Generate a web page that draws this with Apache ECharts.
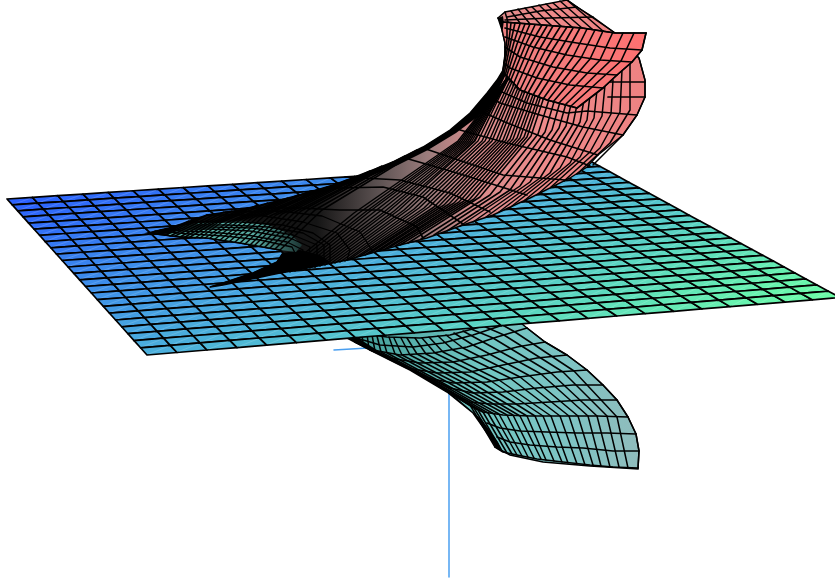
<!DOCTYPE html>
<html><head><meta charset="utf-8">
<script src="https://cdn.jsdelivr.net/npm/echarts@6/dist/echarts.min.js"></script>
<style>html,body{margin:0;background:#fff}#c{width:835px;height:581px}</style></head>
<body><div id="c"></div>
<script>
const planeLeftX=[7,12.3,17.7,23.1,28.6,34.1,39.6,45.2,50.8,56.5,62.2,68,73.8,79.6,85.5,91.4,97.4,103.4,109.5,115.6,121.7,127.9,134.1,140.5,147];
const planeLeftY=[199,204.9,210.9,216.9,223.1,229.2,235.3,241.6,247.8,254.2,260.5,267,273.4,279.9,286.5,293,299.7,306.4,313.2,320,326.8,333.7,340.6,347.8,355];
const planeRightX=[590,599.7,609.5,619.3,629.2,639.1,649.1,659.2,669.3,679.4,689.6,699.9,710.2,720.6,731,741.5,752.1,762.7,773.4,784.2,795,805.9,816.9,828.4,840];
const planeRightY=[161,166.3,171.6,177,182.4,187.8,193.3,198.8,204.3,209.8,215.4,221,226.6,232.3,238,243.7,249.5,255.3,261.1,267,272.9,278.9,284.9,291.2,297.5];
const planeBackX=[7,32.4,57.7,83,108.2,133.3,158.3,183.2,208,232.7,257.3,281.8,306.2,330.5,354.7,378.8,402.8,426.7,450.5,474.2,497.8,521.3,544.7,567.5,590];
const planeBackY=[199,197.3,195.7,194.1,192.4,190.8,189.1,187.5,185.9,184.3,182.7,181.1,179.5,177.9,176.3,174.8,173.2,171.6,170.1,168.5,167,165.5,163.9,162.5,161];
const planeFrontX=[147,177,207,237,266.8,296.5,326,355.5,384.9,414.2,443.4,472.5,501.5,530.4,559.2,588,616.7,645.3,673.7,702,730,757.5,785,812.3,840];
const planeFrontY=[355,352.5,350,347.5,345.1,342.6,340.1,337.7,335.2,332.8,330.4,328,325.6,323.2,320.8,318.4,316,313.7,311.3,309,306.6,304.3,302,299.8,297.5];
const planePalette=['#2a5eff','#4bafdc','#6dffa6'];

const axisLines=[[[449,385],[449,577]],[[334,350],[368,348]]];

const lowerOutline=[[347,330],[347,338],[370,350],[410,370],[447,392],[473,413],[490,437],[497,448],[510,455],[543,462],[590,466],[638,469],[639,451],[636,434],[628,417],[617,400],[603,385],[587,370],[567,355],[545,342],[527,328],[505,310]];
const lowerShade=[[347,338],[370,350],[410,370],[447,392],[473,413],[490,437],[497,448],[503,452],[498,442],[482,420],[458,399],[420,374],[380,352],[355,336]];
const lowerRows=[
[[638,468],[613,467],[590,465],[563,462],[537,459],[517,455],[503,452],[495,447]],
[[639,451],[613,451],[583,448],[557,447],[530,445],[510,442],[497,437]],
[[636,434],[607,433],[577,433],[547,432],[520,431],[500,428],[487,423]],
[[628,417],[597,416],[563,416],[530,416],[503,415],[483,412],[470,405]],
[[617,400],[583,400],[550,402],[517,404],[490,404],[470,402],[450,392]],
[[603,385],[573,385],[537,388],[503,392],[473,393],[450,388],[430,378]],
[[587,370],[557,372],[520,377],[487,382],[453,383],[427,378],[407,367]],
[[567,355],[537,358],[503,365],[470,372],[437,373],[407,368],[387,358]],
[[545,342],[517,347],[487,355],[453,362],[420,363],[390,358],[370,350]],
[[527,328],[497,337],[467,347],[433,353],[400,355],[373,350],[355,342]],
[[503,325],[473,335],[443,343],[413,347],[380,345],[353,337]],
[[480,327],[450,335],[420,338],[387,337],[357,333]]];
const lowerEdge=[[638,468],[639,451],[636,434],[628,417],[617,400],[603,385],[587,370],[567,355],[545,342],[527,328]];
const lowerStripes=[
[628,468,617,417,574,371,515,332,490,318],[619,467,607,416,563,372,504,335,481,325],
[610,467,597,416,551,373,493,338,471,329],[601,466,588,416,541,374,483,342,463,331],
[593,465,578,416,530,376,473,345,454,333],[585,465,569,416,520,377,463,348,446,335],
[577,464,560,416,510,378,453,350,438,336],[568,463,551,416,499,380,443,352,429,337],
[562,462,543,416,491,381,435,353,422,338],[554,461,535,416,481,382,426,354,415,338],
[546,460,527,416,472,383,417,354,407,338],[541,459,520,416,464,383,410,355,401,338],
[534,458,513,415,456,383,402,355,394,338],[528,457,507,415,449,383,395,354,389,337],
[522,456,499,414,441,382,387,353,382,336],[517,455,494,414,434,380,381,352,377,336],
[512,454,488,413,428,378,375,351,372,335],[507,453,483,412,422,375,369,349,367,334],
[502,451,478,410,416,372,363,346,362,333],[499,449,474,408,411,369,359,344,359,332],
[495,447,470,405,407,367,355,342,355,331]];

const bodyOutline=[[148,233],[173,227],[207,215],[240,210],[273,202],[307,193],[333,185],[347,180],[365,173],[393,162],[423,147],[450,130],[470,113],[487,93],[497,80],[503,70],[505,57],[505,43],[502,30],[498,18],[505,12],[567,0],[577,7],[593,17],[615,33],[639,58],[645,80],[645,97],[637,115],[623,135],[598,155],[587,167],[570,178],[530,198],[493,215],[463,225],[427,238],[400,245],[347,260],[313,267],[280,273],[223,285],[210,287],[223,283],[253,273],[277,262],[283,253],[280,250],[240,243],[207,238],[180,237]];
const bodyShade=[[300,194],[333,185],[347,180],[365,173],[393,162],[423,147],[450,130],[470,113],[487,93],[497,80],[503,70],[505,57],[505,43],[502,30],[498,18],[503,16],[505,30],[508,43],[508,57],[507,72],[501,85],[492,100],[476,118],[456,133],[428,150],[398,165],[368,177],[338,188],[305,197]];
const tealPatch=[[168,235],[207,238],[240,243],[280,250],[296,252],[302,245],[290,234],[268,225],[240,221],[207,222],[180,226]];
const limbFill=[[210,287],[223,283],[253,273],[277,262],[283,253],[300,250],[320,255],[330,262],[313,267],[280,273],[223,285]];
const bodyRows=[
[[577,7],[540,11],[507,17]],[[593,17],[550,18],[505,20]],
[[645,82],[603,82]],[[645,97],[608,97]],
[[493,88],[527,103],[567,113],[587,111],[637,115]],
[[487,95],[500,103],[540,115],[583,127],[623,135]],
[[478,110],[505,122],[550,140],[598,155]],
[[460,130],[507,143],[567,157],[590,166]],
[[423,148],[503,175],[565,180]],
[[405,158],[457,173],[527,195]],
[[345,177],[363,178],[400,180],[450,193],[490,212]],
[[310,191],[340,188],[383,187],[423,197],[463,224]],
[[250,208],[300,208],[340,210],[380,210],[417,227],[423,238]]];
const fanRows=[
[[148,233],[180,237],[207,238],[240,243],[280,250],[283,253],[277,262],[253,273],[223,283],[210,287]],
[[155,231],[190,234],[225,236],[260,240],[292,247],[296,255],[280,266],[250,277]],
[[160,230],[207,232],[247,235],[287,242],[303,250],[300,260],[280,269]],
[[165,229],[210,229],[250,231],[290,238],[310,247],[308,258],[290,268]],
[[173,227],[213,227],[253,228],[293,235],[317,245],[317,257],[300,267]],
[[180,225],[228,225],[268,227],[303,233],[324,245],[324,258],[315,267]],
[[190,222],[240,222],[283,225],[313,233],[330,245],[330,262]],
[[207,215],[257,215],[303,222],[337,233],[350,250],[347,260]],
[[225,212],[280,211],[322,216],[360,232],[372,250]]];
const lobeEdge=[[593,165],[623,135],[637,115],[645,97],[645,80],[639,58],[615,33],[567,0]];
const bodyStripes=[
[577,174,610,143,630,110,630,60],[564,181,600,148,620,112,622,70],[551,187,590,152,611,114,613,80],[538,194,580,157,602,116,605,85],
[525,200,570,163,594,118,597,90],[512,206,560,168,587,120,590,95],[499,212,550,173,580,122,584,100],[486,217,540,178,573,124,578,100],
[473,222,530,182,566,126,572,100],[460,226,520,186,559,128,567,100],[447,231,510,190,552,130,562,95],[434,235,500,192,545,132,557,92],
[421,239,490,195,538,134,552,90],[408,243,480,197,531,136,547,88],
[400,245,474,199,527,137,544,87],[395,246,469,200,524,137,542,86],[390,247,464,201,520,138,539,85],[385,249,459,202,517,138,537,84],
[380,250,454,203,513,139,534,83],[375,252,449,204,510,139,532,82],[370,253,444,205,506,140,529,81],[365,255,439,206,503,140,527,80],
[360,256,434,207,499,141,524,79],[355,258,429,207,496,141,522,78],[350,259,424,208,492,141,520,76],[345,261,419,208,489,141,518,75],
[340,262,414,209,485,141,516,73],[335,263,409,209,482,141,514,72],[330,264,404,210,478,141,512,71],[325,265,399,210,475,141,511,70],
[320,266,394,211,474,141,512,72],[315,267,389,211,472,141,511,73],[310,268,384,212,470,141,510,74],[305,269,379,212,468,141,509,75],
[300,270,374,212,466,141,508,76],[295,271,369,212,464,141,508,77],[290,272,364,213,462,141,507,78],[285,272,359,213,460,141,507,79],
[280,273,354,213,458,141,506,80]];
const fanStripes=[
[280,250,322,210,440,138],[275,249,315,210,428,145],[270,248,308,210,417,150],[265,247,301,211,405,156],[260,246,295,212,393,162],
[255,245,288,213,382,166],[250,245,282,214,370,171],[245,244,276,215,358,176],[240,243,270,216,347,180],[235,242,264,216,338,183],
[230,241,258,217,328,187],[225,240,252,218,318,190],[220,240,246,219,308,192],[215,239,240,220,298,195],[210,238,234,221,288,198],
[205,238,228,222,278,201],[200,238,222,222,268,203],[195,238,217,223,258,205],[190,237,212,224,248,208],[185,237,206,225,240,210],
[180,237,200,226,232,211],[175,236,194,227,224,212],[170,236,189,227,215,214],[165,235,183,228,207,215],[160,234,177,229,198,218],
[155,234,171,230,189,221],[150,233,163,231,180,225]];
const bandStripes=[[505,12,508,22],[511,11,520,23],[518,9,530,24],[525,8,541,25],[532,7,552,26],[539,5,562,27],[546,4,572,27],[553,3,582,28],[560,1,592,29],[567,0,603,31]];

const flapOutline=[[503,22],[543,25],[582,28],[615,33],[646,33],[642,50],[632,62],[617,75],[603,88],[577,108],[547,100],[520,90],[503,72],[505,57],[505,43],[502,30]];
const flapRows=[
[[646,33],[615,33],[582,28],[543,25],[503,22],[498,18]],
[[642,50],[610,48],[577,43],[540,37],[505,28]],
[[632,62],[600,60],[567,55],[533,47],[505,37]],
[[617,75],[587,73],[553,67],[520,57],[505,47]],
[[603,88],[570,85],[537,78],[510,68],[504,63]],
[[577,108],[547,100],[520,90],[503,72]]];
const flapEdge=[[646,33],[642,50],[632,62],[617,75],[603,88],[577,108]];
const flapStripes=[
[634,33,621,61,571,106],[623,33,610,61,565,105],[613,32,600,60,559,103],[603,31,590,59,553,102],[595,30,581,58,548,100],
[587,29,573,57,543,99],[580,28,565,55,538,97],[573,28,558,54,533,95],[567,27,551,52,528,93],[560,27,545,51,524,92],
[553,26,539,50,520,90],[547,26,534,48,516,88],[542,25,529,47,513,85],[535,25,525,46,510,82],[530,24,521,45,508,80],
[525,24,517,44,506,78],[520,24,514,42,505,76],[515,23,511,41,504,74],[511,23,509,40,503,72],[507,22,507,39,503,70]];

// ---- drawing through the chart's own cartesian scales ----
const toPts=f=>{const p=[];for(let i=0;i<f.length;i+=2)p.push([f[i],f[i+1]]);return p;};
const grad=(stops,x,x2,y=0,y2=0)=>({type:'linear',global:true,x,y,x2,y2,colorStops:stops.map(s=>({offset:s[0],color:s[1]}))});
function polys(list,style){
  return {type:'custom',coordinateSystem:'cartesian2d',silent:true,animation:false,clip:true,
    data:list.map((_,i)=>[i,i]),encode:{x:0,y:1},
    renderItem(p,api){return {type:'polygon',shape:{points:list[p.dataIndex].map(q=>api.coord(q))},style};}};
}
function lines(list,width,color='#000'){
  return {type:'custom',coordinateSystem:'cartesian2d',silent:true,animation:false,clip:true,
    data:list.map((_,i)=>[i,i]),encode:{x:0,y:1},
    renderItem(p,api){return {type:'polyline',shape:{points:list[p.dataIndex].map(q=>api.coord(q))},
      style:{stroke:color,lineWidth:width,fill:null,lineJoin:'round',lineCap:'round'}};}};
}
function cross(i,j){ // node where plane row i meets plane column j
  const a=[planeLeftX[i],planeLeftY[i]],b=[planeRightX[i],planeRightY[i]],c=[planeBackX[j],planeBackY[j]],d=[planeFrontX[j],planeFrontY[j]];
  const r=[b[0]-a[0],b[1]-a[1]],s=[d[0]-c[0],d[1]-c[1]],den=r[0]*s[1]-r[1]*s[0];
  const t=((c[0]-a[0])*s[1]-(c[1]-a[1])*s[0])/den;
  return [a[0]+r[0]*t,a[1]+r[1]*t];
}
const planeCells=[];
for(let i=0;i<planeLeftX.length-1;i++)for(let j=0;j<planeBackX.length-1;j++)planeCells.push([i,j]);
const planeSeries={type:'custom',coordinateSystem:'cartesian2d',silent:true,animation:false,clip:true,
  data:planeCells,encode:{x:0,y:1},
  renderItem(p,api){
    const [i,j]=planeCells[p.dataIndex];
    const q=[cross(i,j),cross(i,j+1),cross(i+1,j+1),cross(i+1,j)].map(n=>api.coord(n));
    const color=echarts.color.lerp((i+j+1)/48,planePalette);
    return {type:'group',children:[
      {type:'polygon',shape:{points:q},style:{fill:color,stroke:'#000',lineWidth:1.7,lineJoin:'round'}},
      {type:'line',shape:{x1:q[3][0]+2,y1:q[3][1]-1,x2:q[1][0]-2,y2:q[1][1]+1},style:{stroke:'rgba(255,255,255,0.16)',lineWidth:1}}]};
  }};

const bodyFill=grad([[0,'#0c0c0c'],[0.34,'#151515'],[0.46,'#5a5050'],[0.56,'#9a7c7c'],[0.66,'#d88c8c'],[0.8,'#ee8a8a'],[1,'#ee8282']],147,646);
const flapFill=grad([[0,'#ee8080'],[0.5,'#f67a7a'],[1,'#ff7070']],503,646);
const lowerFill=grad([[0,'#3f9a95'],[0.45,'#70c6c2'],[0.75,'#7ec4c4'],[1,'#90bcbc']],347,639);
const tealFill=grad([[0,'#5fc0b6'],[0.65,'#56a89f'],[1,'#1c3432']],168,302);

const option={
  animation:false,backgroundColor:'#fff',
  grid:{left:0,right:0,top:0,bottom:0,containLabel:false},
  xAxis:{type:'value',min:0,max:835,show:false},
  yAxis:{type:'value',min:0,max:581,inverse:true,show:false},
  series:[
    lines(axisLines,1.5,'#4a9ff0'),
    polys([lowerOutline],{fill:lowerFill,stroke:'#000',lineWidth:1.5}),
    polys([lowerShade],{fill:'#000'}),
    lines(lowerRows,1.7),
    lines(lowerStripes.map(toPts),1.5),
    lines([lowerEdge],1.5),
    planeSeries,
    polys([bodyOutline],{fill:bodyFill,stroke:'#000',lineWidth:1.4}),
    polys([limbFill],{fill:'#000'}),
    polys([tealPatch],{fill:tealFill}),
    lines(bandStripes.map(toPts),1.5),
    lines(bodyStripes.map(toPts),1.5),
    lines(fanStripes.map(toPts),1.5),
    lines(bodyRows,1.7),
    lines(fanRows,1.3),
    lines([lobeEdge],1.5),
    polys([bodyShade],{fill:'#000'}),
    polys([flapOutline],{fill:flapFill,stroke:'#000',lineWidth:1.5}),
    lines(flapRows,1.7),
    lines(flapStripes.map(toPts),1.6),
    lines([flapEdge],1.6)
  ]
};
const chart=echarts.init(document.getElementById('c'),null,{renderer:'canvas'});
chart.setOption(option);
</script></body></html>
